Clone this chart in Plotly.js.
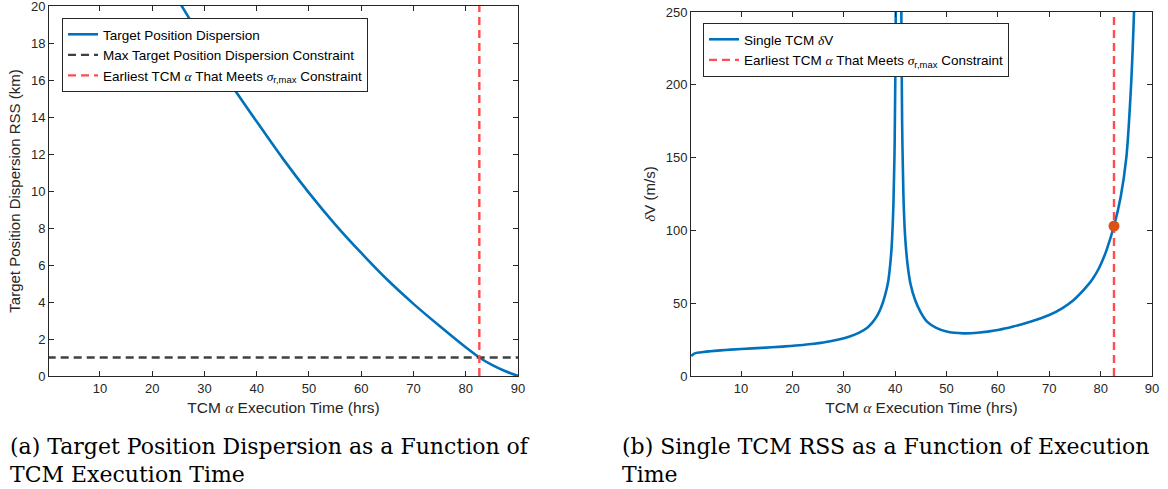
<!DOCTYPE html>
<html>
<head>
<meta charset="utf-8">
<script src="https://cdn.plot.ly/plotly-3.0.1.min.js"></script>
<style>
  html, body { margin: 0; padding: 0; background: #ffffff; }
  #chart { width: 1168px; height: 489px; }
</style>
</head>
<body>
<div id="chart"></div>
<script>
// ---- Data ----
// Panel (a): target position dispersion RSS (km) vs TCM execution time (hrs)
const timeA = [15, 20, 25, 30, 35, 40, 45, 50, 55, 60, 65, 70, 75, 80, 82.6, 85, 87.5, 90];
const dispersionKm = [25.1, 22.7, 20.3, 18.0, 15.8, 13.75, 11.75, 9.9, 8.2, 6.65, 5.2, 3.9, 2.7, 1.55, 1.0, 0.6, 0.27, 0];

// Panel (b): single TCM delta-V (m/s) vs TCM execution time (hrs); null = break at singularity
const timeB = [0.3, 1, 2, 4, 6, 8, 10, 14, 18, 22, 26, 29, 31, 33, 34.5, 35.5, 36.5, 37.2, 38.0, 38.6, 38.9, 39.3, 39.66, 39.9, 40.1, 40.25,
               null,
               41.05, 41.2, 41.35, 41.6, 41.9, 42.4, 43.0, 43.9, 45.0, 46.2, 48, 50, 53.3, 56, 60, 63, 66.3, 70, 72.5, 74.7, 77.3, 78.5, 79.6, 80.5, 81.2, 82.6, 83.9, 85.0, 85.9, 86.5, 86.8];
const deltaV = [13.7, 15.5, 16.2, 17.0, 17.6, 18.1, 18.5, 19.3, 20.2, 21.3, 23.0, 25.0, 27.0, 29.8, 33.0, 36.5, 41.5, 46.5, 55, 64, 72, 88, 118, 160, 240, 330,
                null,
                330, 250, 175, 125, 98, 77, 63, 52, 43.5, 37.3, 33, 30.5, 29.3, 29.7, 31.6, 34, 37.3, 41.9, 46.5, 52, 61.5, 67, 73.5, 80.5, 87, 103, 123, 150, 198, 250, 290];

// Constraint values
const maxDispersion = 1;          // km
const earliestTime = 82.6;        // hrs
const earliestDeltaV = 103;       // m/s at the earliest time
const dispersionAxisMax = 20;
const deltaVAxisMax = 250;

const xTicks = [10, 20, 30, 40, 50, 60, 70, 80, 90];
const yTicksA = [0, 2, 4, 6, 8, 10, 12, 14, 16, 18, 20];
const yTicksB = [0, 50, 100, 150, 200, 250];

// ---- Styles ----
const BLUE = '#0072BD';
const RED = '#FF4D4D';
const DARK = '#404040';
const ORANGE = '#D95319';
const AX = '#262626';
const SANS = 'Liberation Sans, Arial, sans-serif';
const SERIF = 'DejaVu Serif, Liberation Serif, serif';
const greek = g => '<span style="font-family:Liberation Serif"><i>' + g + '</i></span>';

const earliestName = 'Earliest TCM ' + greek('α') + ' That Meets ' + greek('σ') + '<sub>r,max</sub> Constraint';

const traces = [
  { x: timeA, y: dispersionKm, type: 'scatter', mode: 'lines', name: 'Target Position Dispersion',
    line: { color: BLUE, width: 2.6, shape: 'spline', smoothing: 0.8 }, xaxis: 'x', yaxis: 'y', legend: 'legend' },
  { x: [0, 90], y: [maxDispersion, maxDispersion], type: 'scatter', mode: 'lines', name: 'Max Target Position Dispersion Constraint',
    line: { color: DARK, width: 2.4, dash: '8px,5px' }, xaxis: 'x', yaxis: 'y', legend: 'legend' },
  { x: [earliestTime, earliestTime], y: [0, dispersionAxisMax], type: 'scatter', mode: 'lines', name: earliestName,
    line: { color: RED, width: 2.4, dash: '8px,5px' }, xaxis: 'x', yaxis: 'y', legend: 'legend' },

  { x: timeB, y: deltaV, type: 'scatter', mode: 'lines', name: 'Single TCM ' + greek('δ') + 'V', connectgaps: false,
    line: { color: BLUE, width: 2.6, shape: 'spline', smoothing: 0.9 }, xaxis: 'x2', yaxis: 'y2', legend: 'legend2' },
  { x: [earliestTime, earliestTime], y: [0, deltaVAxisMax], type: 'scatter', mode: 'lines', name: earliestName,
    line: { color: RED, width: 2.4, dash: '8px,5px' }, xaxis: 'x2', yaxis: 'y2', legend: 'legend2' },
  { x: [earliestTime], y: [earliestDeltaV], type: 'scatter', mode: 'markers', showlegend: false,
    marker: { color: ORANGE, size: 11 }, xaxis: 'x2', yaxis: 'y2' }
];

function xAxis(domain, anchor) {
  return {
    domain: domain, anchor: anchor, range: [0.25, 90], tickvals: xTicks, ticklabeloverflow: 'allow',
    ticks: 'inside', ticklen: 5, tickcolor: AX, mirror: 'ticks', showline: true, linecolor: AX, linewidth: 1,
    showgrid: false, zeroline: false, tickfont: { family: SANS, size: 13, color: AX },
    title: { text: 'TCM ' + greek('α') + ' Execution Time (hrs)', font: { family: SANS, size: 15.5, color: AX }, standoff: 7 }
  };
}
function yAxis(domain, anchor, range, ticks, title) {
  return {
    domain: domain, anchor: anchor, range: range, tickvals: ticks, ticklabeloverflow: 'allow',
    ticks: 'inside', ticklen: 5, tickcolor: AX, mirror: 'ticks', showline: true, linecolor: AX, linewidth: 1,
    showgrid: false, zeroline: false, tickfont: { family: SANS, size: 13, color: AX },
    title: { text: title, font: { family: SANS, size: 15, color: AX }, standoff: 6 }
  };
}

const H = 489, W = 1168;
const legendStyle = { bgcolor: '#ffffff', bordercolor: AX, borderwidth: 1,
  font: { family: SANS, size: 13.5, color: '#000000' }, xanchor: 'left', yanchor: 'top', xref: 'paper', yref: 'paper' };

const layout = {
  width: W, height: H,
  margin: { l: 0, r: 0, t: 0, b: 0 },
  paper_bgcolor: '#ffffff', plot_bgcolor: '#ffffff',
  xaxis: xAxis([49 / W, 518 / W], 'y'),
  yaxis: yAxis([(H - 376) / H, (H - 6) / H], 'x', [0, dispersionAxisMax], yTicksA, 'Target Position Dispersion RSS (km)'),
  xaxis2: xAxis([691 / W, 1152 / W], 'y2'),
  yaxis2: yAxis([(H - 376) / H, (H - 12) / H], 'x2', [0, deltaVAxisMax], yTicksB, greek('δ') + 'V (m/s)'),
  legend: Object.assign({}, legendStyle, { x: 62 / W, y: 1 - 18 / H }),
  legend2: Object.assign({}, legendStyle, { x: 703 / W, y: 1 - 23 / H }),
  annotations: [
    { text: '(a) Target Position Dispersion as a Function of', x: 8 / W, y: 1 - 446 / H },
    { text: 'TCM Execution Time', x: 8 / W, y: 1 - 474 / H },
    { text: '(b) Single TCM RSS as a Function of Execution', x: 620 / W, y: 1 - 446 / H },
    { text: 'Time', x: 620 / W, y: 1 - 474 / H }
  ].map(a => Object.assign(a, { xref: 'paper', yref: 'paper', xanchor: 'left', yanchor: 'middle', showarrow: false,
      font: { family: SERIF, size: 22, color: '#000000' } })),
  showlegend: true
};

Plotly.newPlot('chart', traces, layout, { displayModeBar: false, staticPlot: true });
</script>
</body>
</html>
